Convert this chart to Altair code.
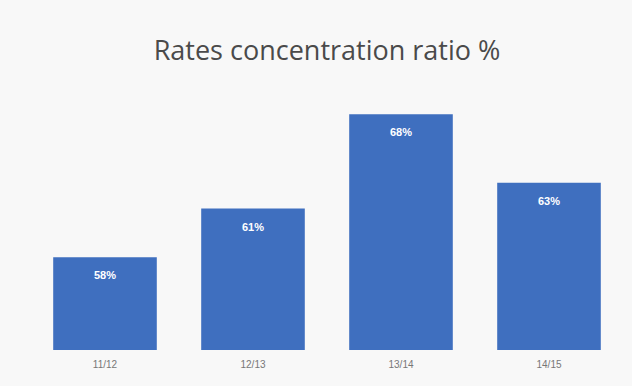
import altair as alt
import pandas as pd

years = ["11/12", "12/13", "13/14", "14/15"]
values = [58, 61.4, 68, 63.2]
labels = ["58%", "61%", "68%", "63%"]

df = pd.DataFrame({"year": years, "value": values, "label": labels})

x = alt.X("year:N", sort=years,
          scale=alt.Scale(paddingInner=0.3, paddingOuter=0.15),
          axis=alt.Axis(title=None, labelAngle=0, ticks=False, domain=False,
                        labelColor="#777777", labelFontSize=10, labelPadding=9,
                        labelFont="Liberation Sans", grid=False))
y = alt.Y("value:Q", scale=alt.Scale(domain=[51.5, 69], zero=False, clamp=True),
          axis=None)

bars = alt.Chart(df).mark_bar(color="#3F6FBF").encode(x=x, y=y)
text = alt.Chart(df).mark_text(color="white", fontWeight="bold", fontSize=11,
                               baseline="top", dy=13, font="Liberation Sans").encode(
    x=alt.X("year:N", sort=years), y=y, text="label:N")

chart = alt.layer(bars, text).properties(
    width=592, height=250,
    autosize=alt.AutoSizeParams(type="none"),
    padding={"left": 31, "top": 100, "right": 9, "bottom": 36},
    background="#f8f8f8",
    title=alt.TitleParams("Rates concentration ratio %", fontSize=27, font="Open Sans",
                          fontWeight="normal", color="#4a4a4a", anchor="middle",
                          offset=34),
).configure_view(stroke=None)

chart.save("out.html", embed_options={"renderer": "svg", "actions": False})
